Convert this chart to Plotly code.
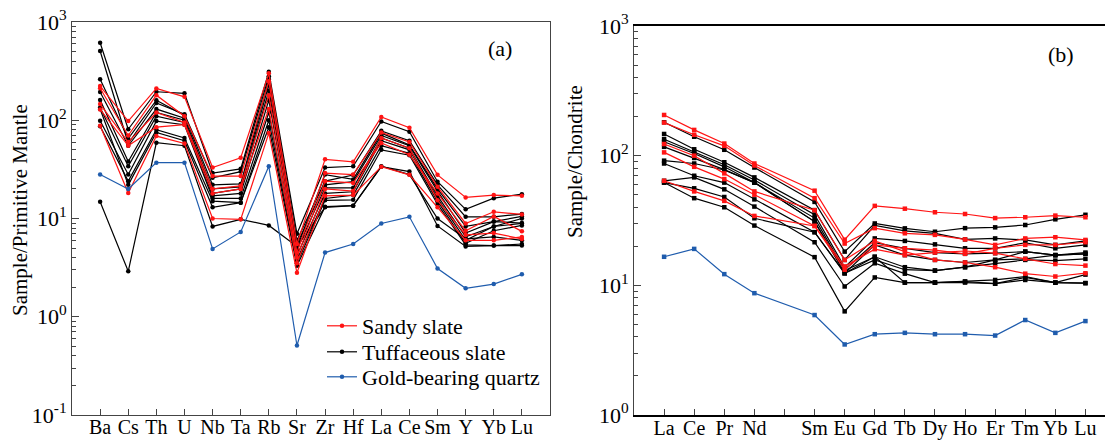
import plotly.graph_objects as go

# ---------------- Panel (a): primitive-mantle normalised ----------------
elements_a = ["Ba", "Cs", "Th", "U", "Nb", "Ta", "Rb", "Sr", "Zr", "Hf",
              "La", "Ce", "Sm", "Y", "Yb", "Lu"]

sandy_a = [
    [223, 98, 211, 173, 33, 41.5, 300, 5.5, 40, 37.7, 108, 84, 27.8, 16.4, 17.3, 17.0],
    [212, 70, 180, 110, 27, 27, 250, 4.5, 29, 28, 75, 60, 21, 8.9, 11.7, 11.0],
    [146, 60, 120, 95, 20, 21.5, 180, 4.0, 24, 23, 58.6, 44.5, 18, 7.5, 10.5, 7.4],
    [129, 55, 85, 90, 18, 20, 130, 3.5, 20, 19, 66, 52, 15.3, 6.8, 7.1, 6.2],
    [88, 18.2, 69, 58, 10, 9.8, 74, 2.8, 17, 17.3, 33.7, 27.8, 13, 6.0, 6.0, 6.5],
]
tuff_a = [
    [615, 81, 195, 188, 29, 32, 312, 7.0, 33, 34, 97, 76.5, 23.7, 12.4, 16.1, 17.7],
    [507, 58, 150, 115, 26, 30, 280, 6.0, 24, 27.7, 78, 62, 22, 10.4, 10.4, 11.1],
    [261, 65, 160, 112, 22, 22.5, 260, 5.0, 28, 25, 74, 56, 20, 8.3, 9.3, 10.5],
    [194, 55, 130, 105, 20, 21, 230, 5.5, 22, 23.7, 70, 55, 19, 7.1, 9.3, 9.0],
    [161, 38, 120, 100, 18, 20, 200, 4.8, 20.5, 20.5, 66, 52, 17, 6.5, 8.3, 10.0],
    [135, 34, 110, 95, 17, 18, 160, 4.2, 18, 18.7, 62, 50, 16, 6.0, 8.3, 8.9],
    [99, 28, 98, 90, 16, 16, 120, 3.8, 16, 17.3, 55, 46, 15, 5.6, 7.5, 8.5],
    [87, 24, 80, 66, 15, 14.5, 100, 3.5, 15.3, 15.5, 50, 44, 14, 5.4, 5.3, 5.3],
    [130, 22, 75, 62, 13, 14.5, 85, 3.3, 13.2, 13.5, 33.7, 30, 8.4, 5.2, 5.3, 5.5],
    [14.8, 2.9, 59, 55, 8.3, 9.8, 8.5, 5.2, 13, 13.5, 34, 28, 10, 6.2, 6.5, 6.0],
]
quartz_a = [28, 20, 37, 37, 4.9, 7.3, 34, 0.51, 4.5, 5.5, 8.9, 10.4, 3.1, 1.95, 2.15, 2.7]

# ---------------- Panel (b): chondrite normalised REE ----------------
elements_b = ["La", "Ce", "Pr", "Nd", "Pm", "Sm", "Eu", "Gd", "Tb", "Dy",
              "Ho", "Er", "Tm", "Yb", "Lu"]
ticklabels_b = ["La", "Ce", "Pr", "Nd", "", "Sm", "Eu", "Gd", "Tb", "Dy",
                "Ho", "Er", "Tm", "Yb", "Lu"]
ree_b = ["La", "Ce", "Pr", "Nd", "Sm", "Eu", "Gd", "Tb", "Dy",
         "Ho", "Er", "Tm", "Yb", "Lu"]

sandy_b = [
    [206, 158, 124, 87, 53.7, 22.5, 41, 39, 36.6, 35.5, 33, 33.5, 34.5, 33.5],
    [180, 145, 119, 84, 47, 21, 27.6, 25.2, 24.5, 22.6, 20.5, 23, 23.5, 22.4],
    [123, 100, 73, 53, 38, 15.7, 22, 18.2, 15.7, 15, 13.8, 12.3, 11.7, 12.4],
    [106, 82, 66, 50, 28.7, 14, 19, 17.1, 17.9, 18.4, 17.7, 16, 14.6, 14.2],
    [64, 53, 44.8, 34.3, 28.7, 13.2, 20.5, 19.3, 18.7, 17.5, 19.3, 20.5, 20.5, 21.5],
]
tuff_b = [
    [181, 140, 111, 81, 44, 18.2, 30, 27.5, 25.9, 27.6, 28, 29.2, 32.3, 35],
    [147, 112, 89, 68, 38, 15.7, 29, 26.3, 25.2, 22.6, 23, 22.4, 20.5, 22],
    [134, 107, 85, 65, 35, 13.8, 23, 22, 20.7, 19.3, 19.3, 21.3, 19.3, 20.5],
    [128, 104, 82, 62, 33, 13.2, 21.3, 19.3, 17.9, 17.5, 17.7, 18.2, 17.1, 17.9],
    [117, 96, 78, 62, 31, 12.4, 20.5, 17.1, 15.7, 15.0, 15.7, 16, 17.1, 17.5],
    [91.5, 87, 77.6, 62, 31, 13, 16.6, 13.8, 13, 13.8, 14.8, 15.7, 15.5, 16],
    [87, 70, 62, 46, 25.7, 12.4, 15.7, 13.2, 13, 13.8, 15.7, 18.2, 17.1, 17.5],
    [64, 68, 55, 40.5, 21.5, 9.8, 14.8, 12.3, 10.5, 10.7, 11, 11.7, 10.5, 12.1],
    [62, 56, 48, 32.9, 25.7, 12.4, 16.6, 10.5, 10.5, 10.7, 10.3, 11, 10.5, 10.4],
    [62, 47, 40, 28.9, 16.5, 6.3, 11.5, 10.5, 10.5, 10.5, 10.3, 11.5, 10.5, 10.4],
]
quartz_b = [16.6, 19.1, 12.2, 8.7, 5.9, 3.5, 4.2, 4.3, 4.2, 4.2, 4.1, 5.4, 4.3, 5.3]

legend_names = ["Sandy slate", "Tuffaceous slate", "Gold-bearing quartz"]

RED = "#ff1414"
BLACK = "#000000"
BLUE = "#1f5cad"
FONT = "Liberation Serif, Times New Roman, serif"

fig = go.Figure()


def add_group(xs, rows, color, xa, ya, symbol):
    for r in rows:
        fig.add_trace(go.Scatter(
            x=xs, y=r, mode="lines+markers",
            line=dict(color=color, width=1.2),
            marker=dict(color=color, size=4.5, symbol=symbol),
            xaxis=xa, yaxis=ya, showlegend=False))


add_group(elements_a, tuff_a, BLACK, "x", "y", "circle")
add_group(elements_a, sandy_a, RED, "x", "y", "circle")
add_group(elements_a, [quartz_a], BLUE, "x", "y", "circle")

add_group(ree_b, tuff_b, BLACK, "x2", "y2", "square")
add_group(ree_b, sandy_b, RED, "x2", "y2", "square")
add_group(ree_b, [quartz_b], BLUE, "x2", "y2", "square")

# legend entries (one legend box each, stacked like the reference)
for nm, col, lg in zip(legend_names, [RED, BLACK, BLUE], ["legend", "legend2", "legend3"]):
    fig.add_trace(go.Scatter(
        x=[None], y=[None], mode="lines+markers", name=nm,
        line=dict(color=col, width=1.2), marker=dict(color=col, size=4.5),
        xaxis="x", yaxis="y", showlegend=True, legend=lg))

W, H = 1105, 441
axcol = "#444444"
tickfont = dict(family=FONT, size=20, color="black")
ytickfont = dict(family=FONT, size=22, color="black")

decade_vals_a = [0.1, 1, 10, 100, 1000]
decade_txt_a = ["10<sup>-1</sup>", "10<sup>0</sup>", "10<sup>1</sup>", "10<sup>2</sup>", "10<sup>3</sup>"]


def leg(yc):
    return dict(x=322 / W, y=1 - yc / H, xanchor="left", yanchor="middle",
                font=dict(family=FONT, size=22, color="black"),
                bgcolor="rgba(0,0,0,0)", itemwidth=30, borderwidth=0)


fig.update_layout(
    width=W, height=H,
    margin=dict(l=0, r=0, t=0, b=0, autoexpand=False),
    paper_bgcolor="white", plot_bgcolor="white",
    font=dict(family=FONT, color="black"),
    showlegend=True,
    legend=leg(326), legend2=leg(352), legend3=leg(377),
    xaxis=dict(domain=[72 / W, 550 / W], type="category",
               categoryorder="array", categoryarray=elements_a,
               range=[-1, 16], showline=True, linecolor=axcol, linewidth=1,
               mirror=True, ticks="inside", ticklen=6, tickcolor=axcol,
               showgrid=False, zeroline=False, tickfont=tickfont, anchor="y",
               ticklabelstandoff=-6, automargin=False),
    yaxis=dict(domain=[1 - 415 / H, 1 - 22 / H], type="log", range=[-1, 3],
               tickvals=decade_vals_a, ticktext=decade_txt_a,
               showline=True, linecolor=axcol, linewidth=1, mirror=True,
               ticks="inside", ticklen=7, tickcolor=axcol,
               minor=dict(ticks="inside", ticklen=4, tickcolor=axcol, dtick="D1", showgrid=False),
               showgrid=False, zeroline=False, tickfont=ytickfont,
               anchor="x", automargin=False),
    xaxis2=dict(domain=[634 / W, 1.0], type="category",
                categoryorder="array", categoryarray=elements_b,
                tickvals=elements_b, ticktext=ticklabels_b,
                range=[-1, 14.65], showline=True, linecolor="black", linewidth=1.5,
                mirror=True, ticks="inside", ticklen=6, tickcolor=axcol,
                showgrid=False, zeroline=False, tickfont=tickfont, anchor="y2",
                ticklabelstandoff=-6, automargin=False),
    yaxis2=dict(domain=[1 - 415 / H, 1 - 26 / H], type="log", range=[0, 3],
                tickvals=[1, 10, 100, 1000],
                ticktext=["10<sup>0</sup>", "10<sup>1</sup>", "10<sup>2</sup>", "10<sup>3</sup>"],
                showline=True, linecolor=axcol, linewidth=1, mirror=False,
                ticks="inside", ticklen=7, tickcolor=axcol,
                minor=dict(ticks="inside", ticklen=4, tickcolor=axcol, dtick="D1", showgrid=False),
                showgrid=False, zeroline=False, tickfont=ytickfont,
                anchor="x2", automargin=False),
    annotations=[
        dict(text="Sample/Primitive Mantle", x=20 / W, y=1 - 210 / H, xref="paper", yref="paper",
             textangle=-90, showarrow=False, font=dict(family=FONT, size=21, color="black"),
             xanchor="center", yanchor="middle"),
        dict(text="Sample/Chondrite", x=575 / W, y=1 - 162 / H, xref="paper", yref="paper",
             textangle=-90, showarrow=False, font=dict(family=FONT, size=21, color="black"),
             xanchor="center", yanchor="middle"),
        dict(text="(a)", x=500 / W, y=1 - 48 / H, xref="paper", yref="paper",
             showarrow=False, font=dict(family=FONT, size=22, color="black"),
             xanchor="center", yanchor="middle"),
        dict(text="(b)", x=1061 / W, y=1 - 54 / H, xref="paper", yref="paper",
             showarrow=False, font=dict(family=FONT, size=22, color="black"),
             xanchor="center", yanchor="middle"),
    ],
)

fig.write_html("out.html")
